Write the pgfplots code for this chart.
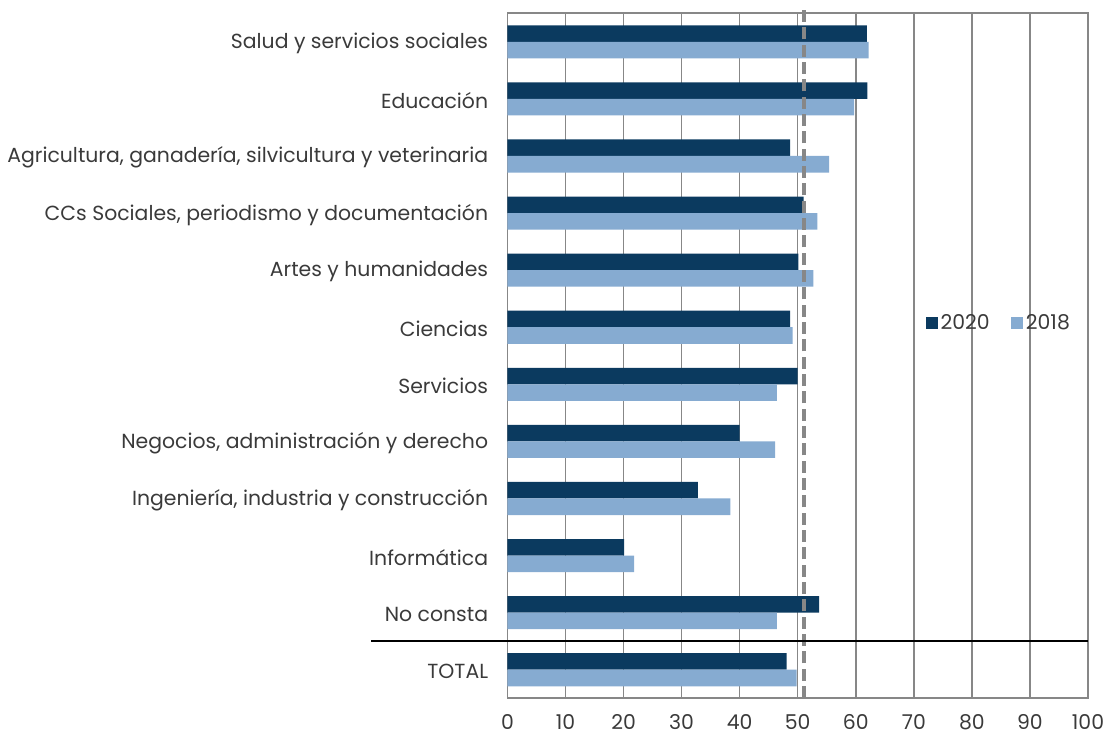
\documentclass[border=0pt]{standalone}
\usepackage{pgfplots}
\pgfplotsset{compat=1.18}
\usepackage{fontspec}
\setmainfont{Poppins}
\definecolor{navy}{HTML}{0B3A5F}
\definecolor{lightb}{HTML}{86ABD1}
\definecolor{gridc}{HTML}{878787}
\definecolor{txt}{HTML}{3A3A3A}
\begin{document}
\begin{tikzpicture}
\begin{axis}[
  name=ax,
  scale only axis,
  width=435.4pt, height=513.75pt,
  xbar,
  bar width=12.4pt,
  xmin=0, xmax=100,
  ymin=-0.5, ymax=11.5,
  xtick={0,10,...,100},
  ytick={0,...,11},
  yticklabels={TOTAL,No consta,Informática,{Ingeniería, industria y construcción},{Negocios, administración y derecho},Servicios,Ciencias,Artes y humanidades,{CCs Sociales, periodismo y documentación},{Agricultura, ganadería, silvicultura y veterinaria},Educación,Salud y servicios sociales},
  minor ytick={0.5,1.5,...,10.5},
  xmajorgrids,
  major grid style={gridc, line width=1.1pt},
  axis line style={gridc, line width=1.1pt},
  xtick style={draw=none},
  ytick style={draw=none},
  minor y tick style={gridc, line width=0.9pt},
  minor tick length=6pt,
  tick align=inside,
  /pgf/number format/assume math mode=true,
  tick label style={font=\fontsize{15.3}{18}\selectfont, text=txt},
  yticklabel style={xshift=-11pt, yshift=-1.5pt},
  xticklabel style={yshift=-9pt},
  clip=false,
  legend style={draw=none, fill=none, at={(axis cs:71.3,6.07)}, anchor=west,
    legend columns=2, font=\fontsize{15.3}{18}\selectfont, text=txt,
    /tikz/every even column/.append style={column sep=14pt}},
  legend image code/.code={\fill[#1] (0pt,-4.6pt) rectangle (9.2pt,4.6pt);},
]
\addplot[draw=none, fill=navy, bar shift=6.0pt] coordinates {
 (48.1,0) (53.7,1) (20.1,2) (32.8,3) (40.0,4) (50.0,5) (48.7,6) (50.1,7) (51.0,8) (48.7,9) (62.0,10) (61.9,11)};
\addlegendentry{2020}
\addplot[draw=none, fill=lightb, bar shift=-6.4pt] coordinates {
 (49.8,0) (46.4,1) (21.8,2) (38.4,3) (46.1,4) (46.4,5) (49.1,6) (52.7,7) (53.4,8) (55.4,9) (59.7,10) (62.2,11)};
\addlegendentry{2018}
\draw[gridc, line width=3pt, dash pattern=on 9pt off 4pt] (axis cs:51.1,-0.5) -- (axis cs:51.1,11.6);
\draw[black, line width=0.9pt] (axis cs:-23.5,0.5) -- (axis cs:100,0.5);
\end{axis}
\pgfresetboundingbox
\path ([shift={(-380.6pt,-27.75pt)}]ax.south west) rectangle ([shift={(13.5pt,9.75pt)}]ax.north east);
\end{tikzpicture}
\end{document}
